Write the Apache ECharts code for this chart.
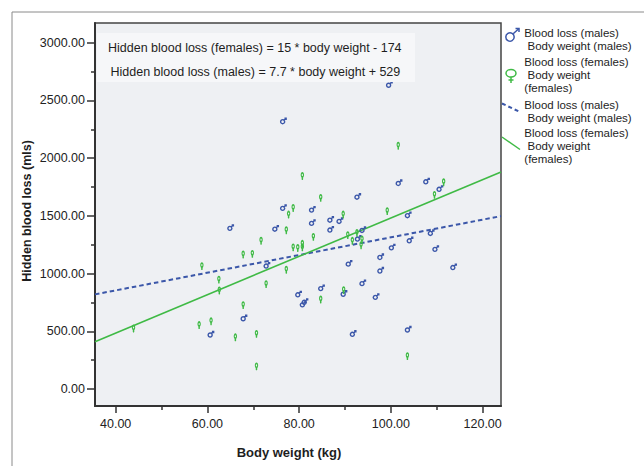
<!DOCTYPE html>
<html>
<head>
<meta charset="utf-8">
<script src="https://cdn.jsdelivr.net/npm/echarts@6/dist/echarts.min.js"></script>
<style>html,body{margin:0;padding:0;background:#fff}#c{width:644px;height:466px}</style>
</head>
<body>
<div id="c"></div>
<script>
// ---- data ----
var maleWeight = [99.5,76.4,101.6,107.6,110.5,92.6,76.4,82.7,86.7,88.7,82.7,103.6,74.7,64.9,86.7,93.7,92.7,108.6,104.0,100.1,109.6,97.6,97.6,90.7,72.8,113.5,93.7,96.6,89.6,84.7,79.7,80.7,81.1,67.8,60.6,91.6,103.6];
var maleLoss = [2632,2316,1781,1795,1730,1662,1565,1550,1463,1452,1435,1502,1385,1392,1377,1374,1299,1348,1284,1223,1210,1140,1022,1082,1065,1052,913,794,821,870,816,729,751,609,468,474,511];
var femaleWeight = [101.6,80.7,111.5,109.5,84.7,78.7,77.7,99.2,89.6,77.2,83.1,90.6,92.6,91.6,93.7,93.5,71.7,78.7,79.7,80.7,80.7,67.8,69.8,77.2,58.8,62.5,62.6,72.8,89.7,84.7,67.8,58.2,60.8,43.9,70.7,66.1,70.7,103.6];
var femaleLoss = [2117,1855,1801,1691,1665,1578,1521,1550,1521,1385,1327,1342,1362,1293,1305,1255,1294,1236,1231,1236,1267,1175,1180,1043,1074,957,863,918,866,785,736,563,596,534,487,457,205,294];
var maleFitX = [35.5,124];
var maleFitY = [820,1498];
var femaleFitX = [35.5,124];
var femaleFitY = [410,1881];
var xTicks = [40,60,80,100,120];
var xMinorTicks = [50,70,90,110];
var yTicks = [0,500,1000,1500,2000,2500,3000];
var yMinorTicks = [250,750,1250,1750,2250,2750];
var xName = 'Body weight (kg)';
var yName = 'Hidden blood loss (mls)';
var eqFemale = 'Hidden blood loss (females) = 15 * body weight - 174';
var eqMale = 'Hidden blood loss (males) = 7.7 * body weight + 529';
var legendTexts = [
  'Blood loss (males)\n Body weight (males)',
  'Blood loss (females)\n Body weight\n(females)',
  'Blood loss (males)\n Body weight (males)',
  'Blood loss (females)\n Body weight\n(females)'
];

function zip(a, b) { return a.map(function (v, i) { return [v, b[i]]; }); }

var BLUE = '#3b57a9', GREEN = '#3fba45', FONT = '"Liberation Sans", Arial, sans-serif';
var XMIN = 35.5, XMAX = 124, YMIN = -147, YMAX = 3171;

var maleSym = 'path://M0.5,4.5A2,2,0,1,1,4.5,4.5A2,2,0,1,1,0.5,4.5ZM3.9,3.1L6,1M4.3,1L6,1L6,2.7';
var femaleSym = 'path://M0.5,2.5A2,2,0,1,1,4.5,2.5A2,2,0,1,1,0.5,2.5ZM2.5,4.5L2.5,7.5M1.2,6.2L3.8,6.2';

var chart = echarts.init(document.getElementById('c'), null, {renderer: 'svg'});

function txt(x, y, s, opts) {
  return {type: 'text', x: x, y: y, silent: true, z: 100, style: Object.assign({text: s, fill: '#1e1e1e', font: '12px ' + FONT, textVerticalAlign: 'middle'}, opts || {})};
}

var graphics = [
  {type: 'rect', shape: {x: 12, y: 12, width: 800, height: 600}, style: {fill: 'none', stroke: '#8a8a8a', lineWidth: 1}, silent: true, z: -10},
  {type: 'rect', shape: {x: 97, y: 33, width: 318, height: 49}, style: {fill: '#f6f7f9'}, silent: true, z: 50},
  txt(108, 47.7, eqFemale, {font: '12.5px ' + FONT}),
  txt(110.5, 72, eqMale, {font: '12.5px ' + FONT}),
  txt(289, 452, xName, {font: 'bold 13px ' + FONT, textAlign: 'center'}),
  {type: 'text', x: 27, y: 211, rotation: Math.PI / 2, silent: true, style: {text: yName, font: 'bold 12.5px ' + FONT, fill: '#1e1e1e', textAlign: 'center', textVerticalAlign: 'middle'}},
  // legend icons
  {type: 'circle', shape: {cx: 510, cy: 37, r: 4.2}, style: {fill: 'none', stroke: BLUE, lineWidth: 1.5}, silent: true},
  {type: 'polyline', shape: {points: [[513.2, 33.8], [519, 28.5]]}, style: {stroke: BLUE, lineWidth: 1.5}, silent: true},
  {type: 'polyline', shape: {points: [[515.5, 28.5], [519, 28.5], [519, 32]]}, style: {fill: 'none', stroke: BLUE, lineWidth: 1.5}, silent: true},
  {type: 'ellipse', shape: {cx: 511, cy: 73.3, rx: 5, ry: 3.8}, style: {fill: 'none', stroke: GREEN, lineWidth: 1.5}, silent: true},
  {type: 'line', shape: {x1: 511, y1: 77, x2: 511, y2: 83}, style: {stroke: GREEN, lineWidth: 1.5}, silent: true},
  {type: 'line', shape: {x1: 508.5, y1: 80, x2: 513.5, y2: 80}, style: {stroke: GREEN, lineWidth: 1.5}, silent: true},
  {type: 'line', shape: {x1: 502, y1: 103.5, x2: 520, y2: 112}, style: {stroke: BLUE, lineWidth: 2, lineDash: [4, 3]}, silent: true},
  {type: 'line', shape: {x1: 502, y1: 137, x2: 520, y2: 149.5}, style: {stroke: GREEN, lineWidth: 1.5}, silent: true}
];
var legendTop = [26.2, 55.5, 98.2, 126.1];
legendTexts.forEach(function (s, i) {
  graphics.push({type: 'text', x: 524.3, y: legendTop[i], silent: true, z: 100,
    style: {text: s, fill: '#1e1e1e', font: '11.5px ' + FONT, lineHeight: 13, textVerticalAlign: 'top'}});
});

var fmt = function (v) { return Number(v).toFixed(2); };

var option = {
  animation: false,
  backgroundColor: '#ffffff',
  textStyle: {fontFamily: FONT},
  grid: {left: 95, right: 143, top: 23, bottom: 60, show: true, backgroundColor: '#eef0f3', borderColor: '#444', borderWidth: 1.5, z: 0},
  xAxis: [
    {type: 'value', min: XMIN, max: XMAX, position: 'bottom',
      axisLine: {show: true, onZero: false, lineStyle: {color: '#333', width: 2}},
      axisTick: {show: true, length: 7, customValues: xTicks, lineStyle: {color: '#333', width: 1.5}},
      axisLabel: {show: true, customValues: xTicks, formatter: fmt, margin: 11, color: '#222', fontSize: 12.5, fontFamily: FONT},
      splitLine: {show: false}},
    {type: 'value', min: XMIN, max: XMAX, position: 'bottom', gridIndex: 0,
      axisLine: {show: false, onZero: false},
      axisTick: {show: true, length: 4, customValues: xMinorTicks, lineStyle: {color: '#333', width: 1.5}},
      axisLabel: {show: false}, splitLine: {show: false}}
  ],
  yAxis: [
    {type: 'value', min: YMIN, max: YMAX, position: 'left',
      axisLine: {show: true, onZero: false, lineStyle: {color: '#333', width: 2}},
      axisTick: {show: true, length: 8, customValues: yTicks, lineStyle: {color: '#333', width: 1.5}},
      axisLabel: {show: true, customValues: yTicks, formatter: fmt, margin: 10, color: '#222', fontSize: 12.5, fontFamily: FONT},
      splitLine: {show: false}},
    {type: 'value', min: YMIN, max: YMAX, position: 'left',
      axisLine: {show: false, onZero: false},
      axisTick: {show: true, length: 4, customValues: yMinorTicks, lineStyle: {color: '#333', width: 1.5}},
      axisLabel: {show: false}, splitLine: {show: false}}
  ],
  series: [
    {name: 'Blood loss (males) Body weight (males)', type: 'scatter', xAxisIndex: 0, yAxisIndex: 0,
      data: zip(maleWeight, maleLoss), symbol: maleSym, symbolSize: [5.5, 5.5], symbolKeepAspect: true, symbolOffset: [0.75, -0.75],
      itemStyle: {color: 'rgba(0,0,0,0)', borderColor: BLUE, borderWidth: 1.4, opacity: 1}, z: 5},
    {name: 'Blood loss (females) Body weight (females)', type: 'scatter', xAxisIndex: 0, yAxisIndex: 0,
      data: zip(femaleWeight, femaleLoss), symbol: femaleSym, symbolSize: [4, 7], symbolKeepAspect: true, symbolOffset: [0, 1.5],
      itemStyle: {color: 'rgba(0,0,0,0)', borderColor: GREEN, borderWidth: 1.4, opacity: 1}, z: 5},
    {name: 'Fit males', type: 'line', xAxisIndex: 0, yAxisIndex: 0, data: zip(maleFitX, maleFitY), showSymbol: false, symbol: 'none',
      lineStyle: {color: BLUE, width: 2, type: [4.5, 3]}, z: 4},
    {name: 'Fit females', type: 'line', xAxisIndex: 0, yAxisIndex: 0, data: zip(femaleFitX, femaleFitY), showSymbol: false, symbol: 'none',
      lineStyle: {color: GREEN, width: 1.6}, z: 4}
  ],
  graphic: graphics
};
chart.setOption(option);
</script>
</body>
</html>
